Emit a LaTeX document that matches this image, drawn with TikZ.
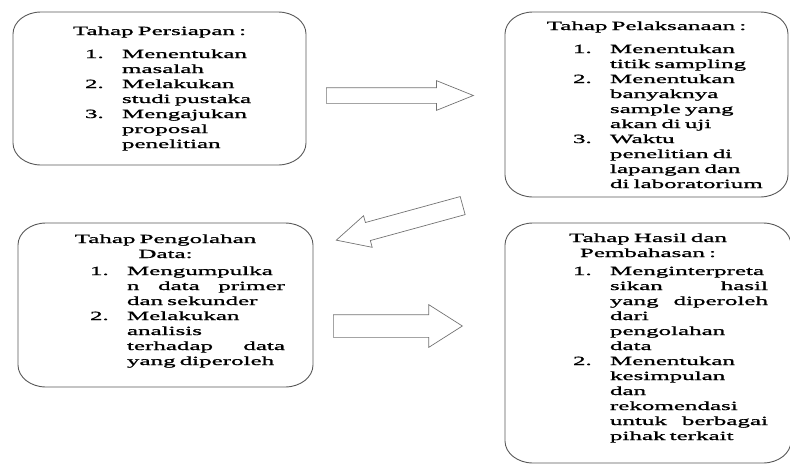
\documentclass[tikz,border=0pt]{standalone}
\usepackage{fontspec}
\setmainfont[FakeStretch=2.0,FakeBold=1.2]{Liberation Serif}
\usepackage{array}
\usetikzlibrary{shapes.arrows}

\tikzset{
  stage/.style={anchor=base, inner sep=0pt, outer sep=0pt,
    font=\fontsize{12.5}{15}\selectfont},
  stageline/.style={draw=black!65, line width=0.9pt},
  blockarrow/.style={single arrow, draw=black!55, line width=0.7pt,
    inner xsep=0pt, anchor=tail, single arrow head indent=0pt}
}
\newcommand\stagetitle[2]{{\centering #2\par}\vspace{#1}}
\newcommand\stagelist[2]{\noindent\hspace*{#1}%
  \begin{tabular}[t]{@{}p{37pt}@{}p{158pt}@{}}#2\end{tabular}\par}

\begin{document}
\begin{tikzpicture}[x=1pt,y=1pt]
\useasboundingbox (0,0) rectangle (790,-466);

% the four stages
\node[stage, text width=293pt, text height=23pt, text depth=130pt] (persiapan) at (159.5,-35) {%
  \stagetitle{8pt}{Tahap Persiapan :}
  \stagelist{72pt}{1. & Menentukan\\ & masalah\\ 2. & Melakukan\\ & studi pustaka\\
    3. & Mengajukan\\ & proposal\\ & penelitian}};
\node[stage, text width=283pt, text height=18pt, text depth=167pt] (pelaksanaan) at (646.5,-30) {%
  \stagetitle{8pt}{Tahap Pelaksanaan :}
  \stagelist{68pt}{1. & Menentukan\\ & titik sampling\\ 2. & Menentukan\\ & banyaknya\\
    & sample yang\\ & akan di uji\\ 3. & Waktu\\ & penelitian di\\ & lapangan dan\\ & di laboratorium}};
\node[stage, text width=295pt, text height=20pt, text depth=144pt] (pengolahan) at (165.5,-243) {%
  \stagetitle{2pt}{Tahap Pengolahan\\Data:}
  \stagelist{72pt}{1. & Mengumpulka\\ & n\hfill data\hfill primer\\ & dan sekunder\\
    2. & Melakukan\\ & analisis\\ & terhadap\hfill data\\ & yang diperoleh}};
\node[stage, text width=286pt, text height=19pt, text depth=221pt] (hasil) at (648,-242) {%
  \stagetitle{3pt}{Tahap Hasil dan\\Pembahasan :}
  \stagelist{68pt}{1. & Menginterpreta\\ & sikan\hfill hasil\\ & yang\hfill diperoleh\\ & dari\\
    & pengolahan\\ & data\\ 2. & Menentukan\\ & kesimpulan\\ & dan\\ & rekomendasi\\
    & untuk\hfill berbagai\\ & pihak terkait}};

% rounded frames
\foreach \n in {persiapan,pelaksanaan,pengolahan,hasil}
  \draw[stageline] ([xshift=28pt]\n.north west) -- ([xshift=-28pt]\n.north east)
    arc[start angle=90, end angle=0, x radius=28pt, y radius=22pt]
    -- ([yshift=22pt]\n.south east)
    arc[start angle=0, end angle=-90, x radius=28pt, y radius=22pt]
    -- ([xshift=28pt]\n.south west)
    arc[start angle=-90, end angle=-180, x radius=28pt, y radius=22pt]
    -- ([yshift=-22pt]\n.north west)
    arc[start angle=180, end angle=90, x radius=28pt, y radius=22pt] -- cycle;

% block arrows between stages
\node[blockarrow, inner ysep=7.5pt, single arrow head extend=7pt,
  single arrow tip angle=43.9, minimum height=147pt] (ke-pelaksanaan) at (326,-95.5) {};
\node[blockarrow, inner ysep=9pt, single arrow head extend=7pt,
  single arrow tip angle=53.1, minimum height=131pt, rotate=195.3] (ke-pengolahan) at (463,-205.5) {};
\node[blockarrow, inner ysep=11pt, single arrow head extend=10pt,
  single arrow tip angle=64.9, minimum height=129pt] (ke-hasil) at (333,-326) {};
\end{tikzpicture}
\end{document}
